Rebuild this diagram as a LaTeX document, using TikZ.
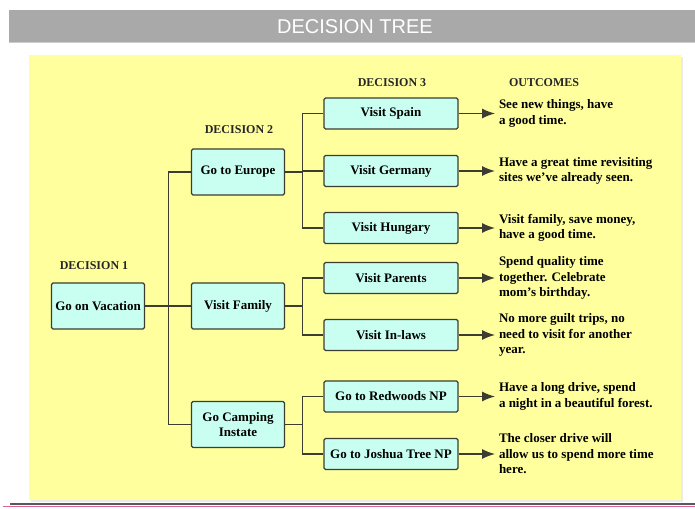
\documentclass[tikz,border=0pt]{standalone}
\usepackage{fontspec}
\setmainfont{Liberation Serif}
\newfontfamily\headfont{Liberation Sans}
\usetikzlibrary{arrows.meta}
\definecolor{headgray}{HTML}{A9A9A9}
\definecolor{panel}{HTML}{FFFF9E}
\definecolor{boxfill}{HTML}{C8FFF0}
\definecolor{linegray}{HTML}{3C3C30}
\definecolor{rule}{HTML}{E0609A}

\begin{document}
\begin{tikzpicture}[
  x=1pt, y=-1pt,
  box/.style={draw=linegray, fill=boxfill, line width=1.3pt, rounded corners=1.5pt,
    font=\bfseries\fontsize{13}{15}\selectfont, align=center, inner sep=0pt},
  bigbox/.style={box, minimum width=93pt, minimum height=46pt},
  smallbox/.style={box, minimum width=134pt, minimum height=31pt},
  heading/.style={font=\bfseries\fontsize{12}{14}\selectfont, text=black!85},
  outcome/.style={anchor=west, align=left, inner sep=0pt, outer xsep=4pt,
    font=\bfseries\fontsize{13}{15.5}\selectfont},
  link/.style={draw=linegray, line width=1.3pt},
  arr/.style={link, -{Latex[length=13pt, width=10pt]}}
]
  \useasboundingbox (0,0) rectangle (695,508);
  \fill[headgray] (9,10) rectangle (695,42);
  \draw[black!20] (9,42.5) -- (695,42.5);
  \node[font=\headfont\fontsize{20}{23}\selectfont, text=white] (title) at (355,26.5) {DECISION TREE};
  \fill[black!8] (31,57) rectangle (683,502);
  \fill[panel] (29,55) rectangle (681,500);
  \draw[line width=1.5pt, black!65] (10,504) -- (695,504);
  \draw[line width=1pt, rule] (3,506.5) -- (695,506.5);

  \node[heading] (dec1) at (94,266) {DECISION 1};
  \node[heading] (dec2) at (239,130) {DECISION 2};
  \node[heading] (dec3) at (392,83) {DECISION 3};
  \node[heading] (outcomes) at (544,83) {OUTCOMES};

  \node[bigbox] (vacation) at (98,306) {Go on Vacation};
  \node[bigbox] (europe) at (238,172) {Go to Europe};
  \node[bigbox] (family) at (238,306) {Visit Family};
  \node[bigbox] (camping) at (238,424.5) {Go Camping\\Instate};

  \node[smallbox] (spain) at (391,113.5) {Visit Spain};
  \node[smallbox] (germany) at (391,171) {Visit Germany};
  \node[smallbox] (hungary) at (391,228) {Visit Hungary};
  \node[smallbox] (parents) at (391,278) {Visit Parents};
  \node[smallbox] (inlaws) at (391,335) {Visit In-laws};
  \node[smallbox] (redwoods) at (391,396.5) {Go to Redwoods NP};
  \node[smallbox] (joshua) at (391,454) {Go to Joshua Tree NP};

  \node[outcome] (spain-out) at (495,113.5) {See new things, have\\a good time.};
  \node[outcome] (germany-out) at (495,171) {Have a great time revisiting\\sites we've already seen.};
  \node[outcome] (hungary-out) at (495,228) {Visit family, save money,\\have a good time.};
  \node[outcome] (parents-out) at (495,278) {Spend quality time\\together. Celebrate\\mom's birthday.};
  \node[outcome] (inlaws-out) at (495,335) {No more guilt trips, no\\need to visit for another\\year.};
  \node[outcome] (redwoods-out) at (495,396.5) {Have a long drive, spend\\a night in a beautiful forest.};
  \node[outcome] (joshua-out) at (495,454) {The closer drive will\\allow us to spend more time\\here.};

  \foreach \d in {europe,family,camping}
    \draw[link] (vacation.east) -- ++(23.5,0) |- (\d.west);
  \foreach \c in {spain,germany,hungary}
    \draw[link] (europe.east) -- ++(17.5,0) |- (\c.west);
  \foreach \c in {parents,inlaws}
    \draw[link] (family.east) -- ++(17.5,0) |- (\c.west);
  \foreach \c in {redwoods,joshua}
    \draw[link] (camping.east) -- ++(17.5,0) |- (\c.west);
  \foreach \c in {spain,germany,hungary,parents,inlaws,redwoods,joshua}
    \draw[arr] (\c.east) -- (\c-out.west);
\end{tikzpicture}
\end{document}
